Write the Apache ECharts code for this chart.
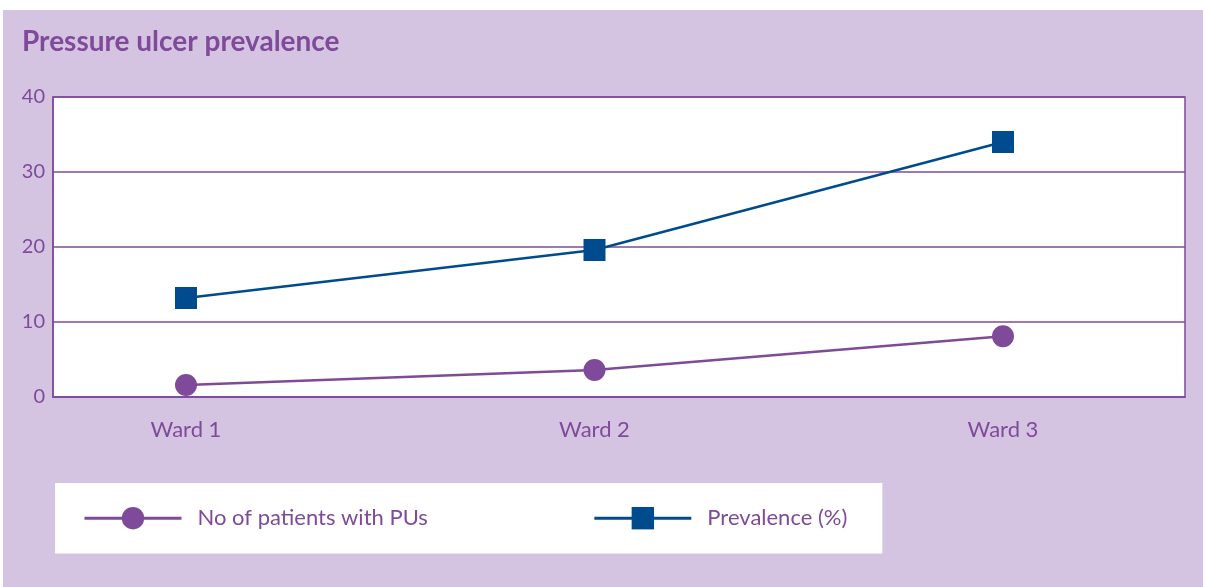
<!DOCTYPE html>
<html>
<head>
<meta charset="utf-8">
<script src="https://cdn.jsdelivr.net/npm/echarts@6/dist/echarts.min.js"></script>
<style>
  html, body { margin: 0; padding: 0; background: #fff; }
  #root { position: absolute; left: 3px; top: 10px; width: 1200px; height: 577px; background: #d4c4e1; }
</style>
</head>
<body>
<div id="root"></div>
<script>
var wards = ['Ward 1', 'Ward 2', 'Ward 3']
var patientsWithPUs = [1.6, 3.6, 8.1]
var prevalence = [13.2, 19.6, 34.0]

var purple = '#7f4a9a'
var blue = '#004b8d'
var font = 'Lato'

var chart = echarts.init(document.getElementById('root'))
var option = {
    animation: false,
    title: {
        text: 'Pressure ulcer prevalence',
        left: 14,
        top: 13,
        textStyle: { color: purple, fontSize: 28, fontWeight: 'bold', fontFamily: font }
    },
    // grid 0 is the white frame, grid 1 places the wards
    grid: [
        { left: 50, top: 87, width: 1132, height: 300, show: true, backgroundColor: '#fff',
          borderColor: purple, borderWidth: 1.5 },
        { left: 183, top: 87, width: 817, height: 300 }
    ],
    xAxis: [
        { gridIndex: 0, type: 'category', data: wards, show: true,
          axisLine: { lineStyle: { color: purple, width: 1.5 } },
          axisTick: { show: false }, axisLabel: { show: false } },
        { gridIndex: 1, type: 'category', data: wards, boundaryGap: false,
          axisLine: { show: false }, axisTick: { show: false },
          axisLabel: { color: purple, fontSize: 22, fontFamily: font, margin: 22 } }
    ],
    yAxis: [
        { gridIndex: 0, type: 'value', min: 0, max: 40, interval: 10,
          axisLine: { show: true, lineStyle: { color: purple, width: 1.5 } },
          axisTick: { show: false },
          splitLine: { lineStyle: { color: purple, width: 1.5 } },
          axisLabel: { color: purple, fontSize: 20, fontFamily: font, margin: 8 } },
        { gridIndex: 1, type: 'value', min: 0, max: 40, interval: 10, show: false,
          splitLine: { show: false } }
    ],
    legend: {
        left: 52,
        top: 473,
        backgroundColor: '#fff',
        padding: [24, 35, 24, 28],
        itemWidth: 97,
        itemHeight: 28,
        itemGap: 165,
        lineStyle: { width: 3 },
        textStyle: { color: purple, fontSize: 22, fontFamily: font, padding: [0, 0, 0, 11] },
        data: ['No of patients with PUs', 'Prevalence (%)']
    },
    series: [
        { name: 'No of patients with PUs', type: 'line', xAxisIndex: 1, yAxisIndex: 1,
          data: patientsWithPUs, symbol: 'circle', symbolSize: 22,
          lineStyle: { color: purple, width: 2.5 }, itemStyle: { color: purple } },
        { name: 'Prevalence (%)', type: 'line', xAxisIndex: 1, yAxisIndex: 1,
          data: prevalence, symbol: 'rect', symbolSize: 22,
          lineStyle: { color: blue, width: 2.5 }, itemStyle: { color: blue } }
    ]
}
chart.setOption(option)
</script>
</body>
</html>
